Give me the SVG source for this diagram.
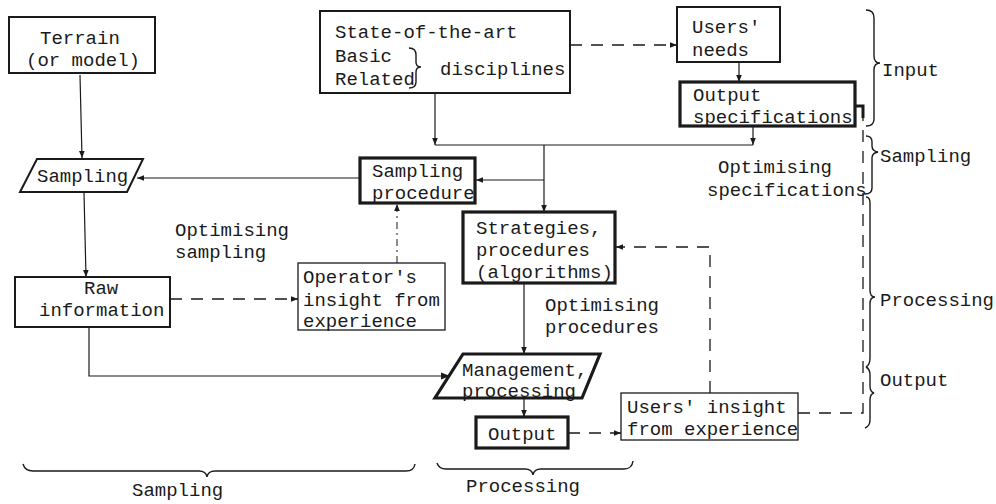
<svg xmlns="http://www.w3.org/2000/svg" width="996" height="504" viewBox="0 0 996 504">
  <style>
    text { font-family: "Liberation Mono", "DejaVu Sans Mono", monospace; font-size: 19px; fill: #1a1a1a; }
    .box { fill: #fff; stroke: #1a1a1a; stroke-width: 2; }
    .thick { stroke-width: 3.2; }
    .thin { stroke-width: 1.3; }
    .ln { fill: none; stroke: #1a1a1a; stroke-width: 1.2; }
    .dash { fill: none; stroke: #1a1a1a; stroke-width: 1.3; stroke-dasharray: 12 9; }
    .dot { fill: none; stroke: #1a1a1a; stroke-width: 1; stroke-dasharray: 7 4 2 4; }
    .brace { fill: none; stroke: #1a1a1a; stroke-width: 1.4; }
  </style>
  <defs>
    <marker id="arr" viewBox="0 0 10 10" refX="10" refY="5" markerWidth="7" markerHeight="7" markerUnits="userSpaceOnUse" orient="auto">
      <path d="M0,1 L10,5 L0,9 z" fill="#1a1a1a"/>
    </marker>
    <marker id="arrBig" viewBox="0 0 10 10" refX="10" refY="5" markerWidth="10" markerHeight="9" markerUnits="userSpaceOnUse" orient="auto">
      <path d="M0,1 L10,5 L0,9 z" fill="#1a1a1a"/>
    </marker>
  </defs>

  <!-- connectors -->
  <g id="connectors">
    <path class="ln" d="M80,75 L82,158" marker-end="url(#arr)"/>
    <path class="ln" d="M84,193 L86,277" marker-end="url(#arr)"/>
    <path class="ln" d="M360,178 L137,178" marker-end="url(#arr)"/>
    <path class="ln" d="M435,93 L435,145" marker-end="url(#arr)"/>
    <path class="ln" d="M753,126 L753,145" marker-end="url(#arr)"/>
    <path class="ln" d="M435,145 L753,145"/>
    <path class="ln" d="M544,145 L544,212" marker-end="url(#arr)"/>
    <path class="ln" d="M544,180 L476,180" marker-end="url(#arr)"/>
    <path class="ln" d="M739,62 L739,82" marker-end="url(#arr)"/>
    <path class="dash" d="M570,45 L677,45" marker-end="url(#arr)"/>
    <path class="dash" d="M170,299 L298,299" marker-end="url(#arr)"/>
    <path class="dot" d="M397,263 L397,204" marker-end="url(#arr)"/>
    <path class="ln" d="M524,283 L524,354" marker-end="url(#arr)"/>
    <path class="ln" d="M89,327 L89,376 L450,376" marker-end="url(#arrBig)"/>
    <path class="ln" d="M524,398 L524,417" marker-end="url(#arr)"/>
    <path class="dash" d="M568,433 L621,433" marker-end="url(#arr)"/>
    <path class="dash" d="M710,393 L710,247 L616,247" marker-end="url(#arr)"/>
    <path class="dash" d="M798,413 L863,413 L863,118"/>
    <path fill="none" stroke="#1a1a1a" stroke-width="3" d="M863,118 L863,106 L856,106"/>
  </g>

  <g id="terrain">
    <rect class="box" x="9" y="17" width="146" height="56"/>
    <text x="40" y="44">Terrain</text>
    <text x="26" y="66">(or model)</text>
  </g>

  <g id="sampling">
    <path class="box" d="M37,159 L143,159 L127,192 L20,192 Z"/>
    <text x="37" y="182">Sampling</text>
  </g>

  <g id="raw-information">
    <rect class="box" x="15" y="277" width="155" height="50"/>
    <text x="84" y="294">Raw</text>
    <text x="39" y="316">information</text>
  </g>

  <g id="disciplines">
    <rect class="box" x="320" y="11" width="250" height="82"/>
    <text x="335" y="38">State-of-the-art</text>
    <text x="335" y="62">Basic</text>
    <text x="335" y="85">Related</text>
    <path class="brace" d="M409,48 Q416,48 416,55 L416,62 Q416,67 421,67 Q416,67 416,72 L416,82 Q416,88 409,88"/>
    <text x="440" y="75">disciplines</text>
  </g>

  <g id="users-needs">
    <rect class="box" x="677" y="7" width="103" height="55"/>
    <text x="692" y="33">Users'</text>
    <text x="692" y="56">needs</text>
  </g>

  <g id="output-specifications">
    <rect class="box thick" x="680" y="82" width="175" height="44"/>
    <text x="693" y="101">Output</text>
    <text x="693" y="123">specifications</text>
  </g>

  <g id="sampling-procedure">
    <rect class="box thick" x="360" y="158" width="115" height="45"/>
    <text x="372" y="177">Sampling</text>
    <text x="372" y="199">procedure</text>
  </g>

  <g id="strategies">
    <rect class="box thick" x="463" y="212" width="152" height="71"/>
    <text x="476" y="234">Strategies,</text>
    <text x="476" y="256">procedures</text>
    <text x="476" y="278">(algorithms)</text>
  </g>

  <g id="operator-insight">
    <rect class="box thin" x="298" y="263" width="147" height="67"/>
    <text x="303" y="283">Operator's</text>
    <text x="303" y="306">insight from</text>
    <text x="303" y="327">experience</text>
  </g>

  <g id="management">
    <path class="box thick" d="M463,354 L600,354 L582,398 L435,398 Z"/>
    <text x="462" y="376">Management,</text>
    <text x="462" y="397">processing</text>
  </g>

  <g id="output">
    <rect class="box thick" x="476" y="417" width="92" height="31"/>
    <text x="488" y="440">Output</text>
  </g>

  <g id="users-insight">
    <rect class="box thin" x="621" y="393" width="177" height="47"/>
    <text x="627" y="413">Users' insight</text>
    <text x="627" y="435">from experience</text>
  </g>

  <!-- loop labels -->
  <g id="labels">
    <text x="175" y="236">Optimising</text>
    <text x="175" y="258">sampling</text>
    <text x="545" y="311">Optimising</text>
    <text x="545" y="333">procedures</text>
    <text x="718" y="173">Optimising</text>
    <text x="707" y="196">specifications</text>
  </g>

  <!-- phase braces, right -->
  <g id="phases-right">
    <path class="brace" d="M866,10 Q874,10 874,18 L874,56 Q874,63 880,63 Q874,63 874,70 L874,119 Q874,126 866,126"/>
    <text x="882" y="76">Input</text>
    <path class="brace" d="M866,136 Q872,136 872,142 L872,146 Q872,151 878,152 Q872,153 872,158 L872,188 Q872,194 865,194"/>
    <text x="880" y="162">Sampling</text>
    <path class="brace" d="M866,197 Q870,197 870,203 L870,290 Q870,297 875,297 Q870,297 870,304 L870,358 Q870,365 866,367"/>
    <text x="880" y="306">Processing</text>
    <path class="brace" d="M866,367 Q870,369 870,375 L870,386 Q870,392 874,393 Q870,394 870,400 L870,420 Q870,426 865,428"/>
    <text x="880" y="386">Output</text>
  </g>

  <!-- phase braces, bottom -->
  <g id="phases-bottom">
    <path class="brace" d="M23,464 Q25,471 33,471 L199,471 Q206,471 207,477 Q208,471 215,471 L406,471 Q414,471 415,464"/>
    <text x="132" y="496">Sampling</text>
    <path class="brace" d="M437,463 Q439,469 446,469 L525,469 Q532,469 533,475 Q534,469 541,469 L624,469 Q632,469 633,461"/>
    <text x="466" y="492">Processing</text>
  </g>
</svg>
